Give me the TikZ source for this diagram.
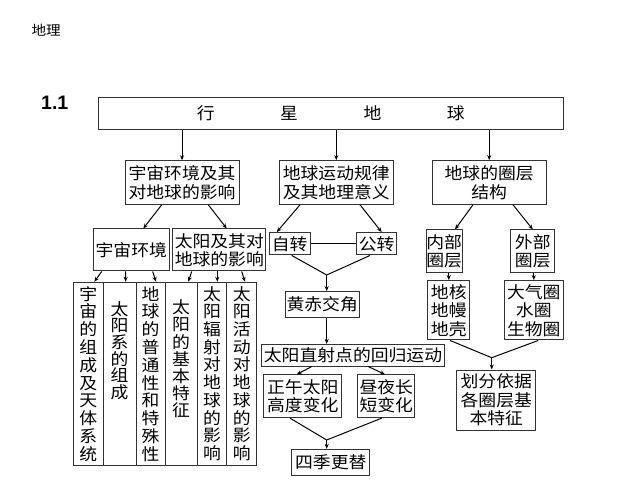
\documentclass[tikz,border=0pt]{standalone}
\usepackage{fontspec}
\setmainfont{Noto Sans CJK SC}[FakeStretch=1.08]
\newfontfamily\numfont{Liberation Sans}
\usepackage{tikz}
\usetikzlibrary{arrows.meta, positioning, shapes}

\begin{document}
\begin{tikzpicture}[x=1pt, y=-1pt, line width=1pt, >={Stealth[length=5pt,width=4pt]},
	box/.style 2 args={draw=black!80, rectangle, inner sep=0pt, align=center, minimum width=#1, minimum height=#2, font=\fontsize{16.5}{18.5}\selectfont},
	colbox/.style={draw=black!80, rectangle, inner sep=0pt, minimum width=#1, minimum height=182.7pt},
	coltext/.style={anchor=north, inner sep=0pt, align=center, font=\fontsize{16.5}{#1}\selectfont}]
	\useasboundingbox (0,0) rectangle (640,486);
	\node[anchor=west, inner sep=0pt, font=\fontsize{13.5}{14}\selectfont] (h0) at (31,30) {地理};
	\node[anchor=west, inner sep=0pt, font=\numfont\bfseries\fontsize{19.5}{20}\selectfont] (h1) at (40.7,103) {1.1};
	
	\node[box={465pt}{32pt}] (q0) at (330.8,113.3) {行\hspace{65.5pt}星\hspace{65.5pt}地\hspace{65.5pt}球};
	\node[box={114pt}{43.6pt}] (q1) at (182,182.5) {宇宙环境及其\\对地球的影响};
	\node[box={114pt}{43.6pt}] (q2) at (336.3,182.5) {地球运动规律\\及其地理意义};
	\node[box={113.7pt}{43.6pt}] (q3) at (489.2,182.5) {地球的圈层\\结构};
	\node[box={76pt}{42pt}] (q4) at (131.3,250) {宇宙环境};
	\node[box={93.3pt}{42pt}] (q5) at (219.3,250) {太阳及其对\\地球的影响};
	\node[box={40.7pt}{22.3pt}] (q6) at (289.7,243.8) {自转};
	\node[box={40pt}{22.3pt}] (q7) at (376.7,243.8) {公转};
	\node[box={74.3pt}{25.6pt}] (q8) at (322.2,304.5) {黄赤交角};
	\node[box={182.6pt}{21.7pt}] (q9) at (353,355.2) {太阳直射点的回归运动};
	\node[box={77.7pt}{42.7pt}] (q10) at (302.8,396.3) {正午太阳\\高度变化};
	\node[box={57.3pt}{42.7pt}] (q11) at (386.3,396.3) {昼夜长\\短变化};
	\node[box={78.3pt}{25.7pt}] (q12) at (330.8,462.2) {四季更替};
	\node[box={35.6pt}{42.7pt}] (q13) at (444.2,251.3) {内部\\圈层};
	\node[box={44.3pt}{42.7pt}] (q14) at (532.8,251.3) {外部\\圈层};
	\node[box={42.3pt}{59.3pt}] (q15) at (448.8,310.3) {地核\\地幔\\地壳};
	\node[box={59pt}{59.3pt}] (q16) at (533.8,310.3) {大气圈\\水圈\\生物圈};
	\node[box={79.3pt}{60pt}] (q17) at (496.3,400) {划分依据\\各圈层基\\本特征};
	
	% vertical columns
	\node[colbox=30pt] (q18) at (88.3,373.65) {};
	\node[colbox=32.7pt] (q19) at (119.65,373.65) {};
	\node[colbox=29pt] (q20) at (150.5,373.65) {};
	\node[colbox=32.3pt] (q21) at (181.15,373.65) {};
	\node[colbox=29.4pt] (q22) at (212,373.65) {};
	\node[colbox=30pt] (q23) at (241.7,373.65) {};
	\node[coltext=17.8pt] (t18) at ([yshift=-4pt]q18.north) {宇\\宙\\的\\组\\成\\及\\天\\体\\系\\统};
	\node[coltext=16.7pt] (t19) at ([yshift=-19pt]q19.north) {太\\阳\\系\\的\\组\\成};
	\node[coltext=17.8pt] (t20) at ([yshift=-4pt]q20.north) {地\\球\\的\\普\\通\\性\\和\\特\\殊\\性};
	\node[coltext=17.2pt] (t21) at ([yshift=-17.5pt]q21.north) {太\\阳\\的\\基\\本\\特\\征};
	\node[coltext=17.7pt] (t22) at ([yshift=-4pt]q22.north) {太\\阳\\辐\\射\\对\\地\\球\\的\\影\\响};
	\node[coltext=17.7pt] (t23) at ([yshift=-4pt]q23.north) {太\\阳\\活\\动\\对\\地\\球\\的\\影\\响};
	
	\coordinate (j1) at (326.7,275);
	\coordinate (j2) at (326.7,440);
	\coordinate (j3) at (491.7,357.7);
	
	\draw[->] (q0.south -| q1.north) -- (q1.north);
	\draw[->] (q0.south -| q2.north) -- (q2.north);
	\draw[->] (q0.south -| q3.north) -- (q3.north);
	
	\draw[->] ([xshift=-20.3pt]q1.south) -- ([xshift=12pt]q4.north);
	\draw[->] ([xshift=26.3pt]q1.south) -- ([xshift=7.4pt]q5.north);
	\draw[->] ([xshift=-29.6pt]q4.south) -- ([xshift=6pt]q18.north);
	\draw[->] ([xshift=-5.6pt]q4.south) -- ([xshift=6pt]q19.north);
	\draw[->] ([xshift=21.4pt]q4.south) -- ([xshift=5.5pt]q20.north);
	\draw[->] ([xshift=-27.6pt]q5.south) -- ([xshift=7.2pt]q21.north);
	\draw[->] ([xshift=-2pt]q5.south) -- ([xshift=5.3pt]q22.north);
	\draw[->] ([xshift=22.4pt]q5.south) -- ([xshift=3.3pt]q23.north);
	
	\draw[->] ([xshift=-36.3pt]q2.south) -- ([xshift=-13pt]q6.north);
	\draw[->] ([xshift=23.7pt]q2.south) -- ([xshift=5pt]q7.north);
	\draw (q6.east) -- (q7.west);
	\draw ([xshift=2pt]q6.south) -- (j1) -- ([xshift=-6.7pt]q7.south);
	\draw[->] (j1) -- (j1 |- q8.north);
	\draw[->] (j1 |- q8.south) -- (j1 |- q9.north);
	\draw[->] ([xshift=-41.3pt]q9.south) -- ([xshift=-6.1pt]q10.north);
	\draw[->] ([xshift=15.3pt]q9.south) -- ([xshift=-1.3pt]q11.north);
	\draw ([xshift=-12.8pt]q10.south) -- (j2) -- ([xshift=-4.6pt]q11.south);
	\draw[->] (j2) -- (j2 |- q12.north);
	
	\draw[->] ([xshift=-16.2pt]q3.south) -- ([xshift=10.8pt]q13.north);
	\draw[->] ([xshift=23.8pt]q3.south) -- (q14.north);
	\draw[->] (q15.north |- q13.south) -- (q15.north);
	\draw[->] (q16.north |- q14.south) -- (q16.north);
	\draw ([xshift=1.2pt]q15.south) -- (j3) -- ([xshift=4.5pt]q16.south);
	\draw[->] (j3) -- (j3 |- q17.north);
\end{tikzpicture}
\end{document}
